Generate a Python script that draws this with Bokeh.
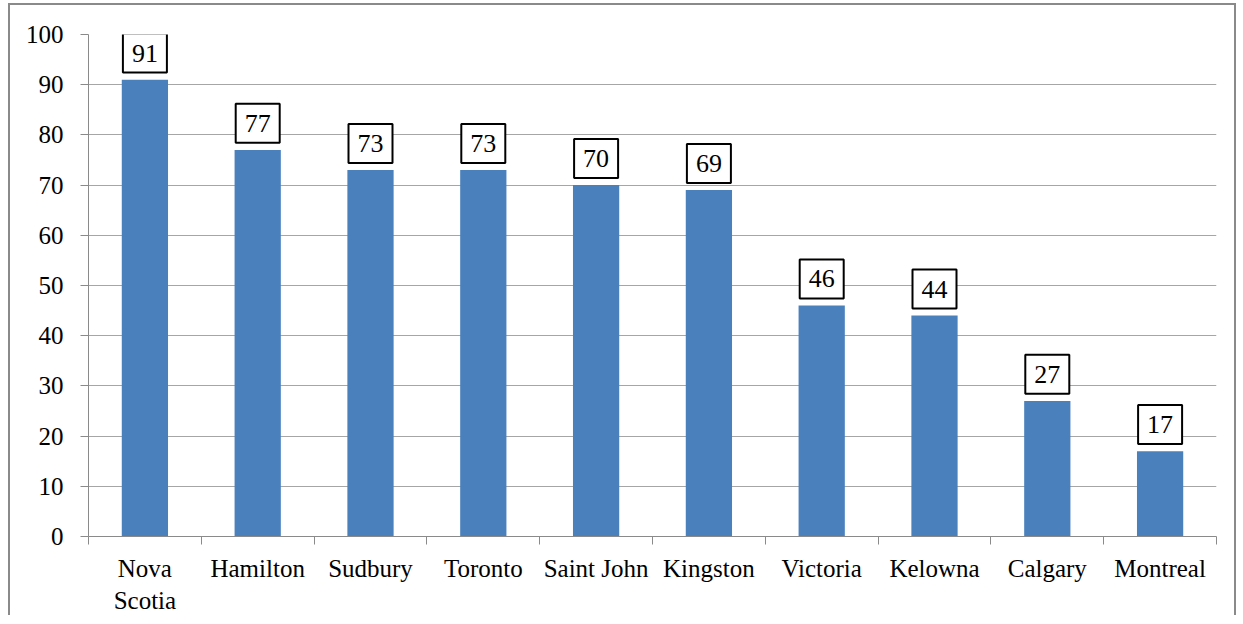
from bokeh.plotting import figure
from bokeh.models import Range1d, FixedTicker, ColumnDataSource
from bokeh.core.properties import value
from bokeh.embed import file_html
from bokeh.resources import INLINE

categories = ["Nova\nScotia", "Hamilton", "Sudbury", "Toronto", "Saint John",
              "Kingston", "Victoria", "Kelowna", "Calgary", "Montreal"]
values = [91, 77, 73, 73, 70, 69, 46, 44, 27, 17]
y_ticks = [0, 10, 20, 30, 40, 50, 60, 70, 80, 90, 100]

n = len(categories)
xs = [i + 0.5 for i in range(n)]
label_y = [v + 5.3 for v in values]
source = ColumnDataSource(dict(x=xs, top=values, ly=label_y,
                               txt=[str(v) for v in values]))

FONT = "Liberation Serif"

p = figure(width=1228, height=612, output_backend="svg", toolbar_location=None,
           x_range=Range1d(0, n), y_range=Range1d(0, 100),
           min_border_left=78, min_border_right=22, min_border_top=29,
           min_border_bottom=81)
p.styles = {"border-top": "2px solid #8a8a8a", "border-left": "2px solid #8a8a8a",
            "border-right": "2px solid #8a8a8a", "margin-left": "8px",
            "margin-top": "3px"}
p.outline_line_color = None
p.background_fill_color = "white"
p.border_fill_color = "white"

p.vbar(x="x", top="top", width=0.41, bottom=0, source=source,
       fill_color="#4A81BD", line_color=None)

p.rect(x="x", y="ly", width=44, height=39, width_units="screen",
       height_units="screen", source=source, fill_color="white",
       line_color="black", line_width=2)
p.text(x="x", y="ly", text="txt", source=source, text_align="center",
       text_baseline="middle", text_font=value(FONT), text_font_size="26px",
       text_color="black")

# x axis
p.xaxis.ticker = FixedTicker(ticks=xs, minor_ticks=list(range(n + 1)))
p.xaxis.major_label_overrides = {x: c for x, c in zip(xs, categories)}
p.xaxis.major_tick_out = 0
p.xaxis.major_tick_in = 0
p.xaxis.minor_tick_out = 8
p.xaxis.minor_tick_in = 0
p.xaxis.minor_tick_line_color = "#8a8a8a"
p.xaxis.axis_line_color = "#8a8a8a"
p.xaxis.major_label_text_font = FONT
p.xaxis.major_label_text_font_size = "25px"
p.xaxis.major_label_text_color = "black"
p.xaxis.major_label_standoff = 10

# y axis
p.yaxis.ticker = FixedTicker(ticks=y_ticks)
p.yaxis.major_tick_out = 8
p.yaxis.major_tick_in = 0
p.yaxis.minor_tick_line_color = None
p.yaxis.major_tick_line_color = "#8a8a8a"
p.yaxis.axis_line_color = "#8a8a8a"
p.yaxis.major_label_text_font = FONT
p.yaxis.major_label_text_font_size = "25px"
p.yaxis.major_label_text_color = "black"
p.yaxis.major_label_standoff = 17

p.xgrid.grid_line_color = None
p.ygrid.grid_line_color = "#a6a6a6"
p.ygrid.ticker = FixedTicker(ticks=y_ticks)

open("out.html", "w").write(file_html(p, INLINE))
